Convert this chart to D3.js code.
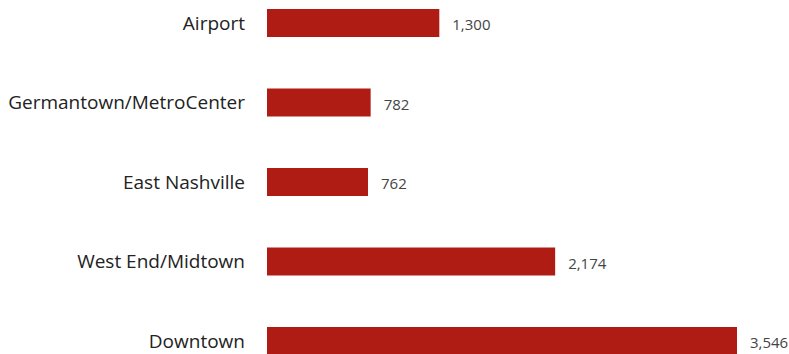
<!DOCTYPE html>
<html>
<head>
<meta charset="utf-8">
<script src="https://d3js.org/d3.v7.min.js"></script>
<style>
  body { margin: 0; background: #fff; }
  svg text { font-family: "Open Sans", sans-serif; }
</style>
</head>
<body>
<svg id="chart" width="789" height="354"></svg>
<script>
  // data
  var areas = ["Airport", "Germantown/MetroCenter", "East Nashville", "West End/Midtown", "Downtown"];
  var counts = [1300, 782, 762, 2174, 3546];

  var width = 789, height = 354;
  var barLeft = 267, barH = 28;

  var svg = d3.select("#chart");

  var x = d3.scaleLinear().domain([0, 3546]).range([barLeft, 737]);
  var y = d3.scalePoint().domain(areas).range([23, 341]);

  var rows = svg.selectAll("g.row")
    .data(areas)
    .enter()
    .append("g")
    .attr("class", "row");

  rows.append("rect")
    .attr("x", x(0))
    .attr("y", function(d) { return y(d) - barH / 2; })
    .attr("width", function(d, i) { return x(counts[i]) - x(0); })
    .attr("height", barH)
    .style("fill", "#af1c13");

  rows.append("text")
    .attr("x", 245)
    .attr("y", function(d) { return y(d); })
    .attr("dy", "0.35em")
    .attr("text-anchor", "end")
    .style("font-size", "19px")
    .style("fill", "#222")
    .text(function(d) { return d; });

  rows.append("text")
    .attr("x", function(d, i) { return x(counts[i]) + 13; })
    .attr("y", function(d) { return y(d) + 2; })
    .attr("dy", "0.35em")
    .style("font-size", "15px")
    .style("fill", "#444")
    .text(function(d, i) { return d3.format(",")(counts[i]); });
</script>
</body>
</html>
